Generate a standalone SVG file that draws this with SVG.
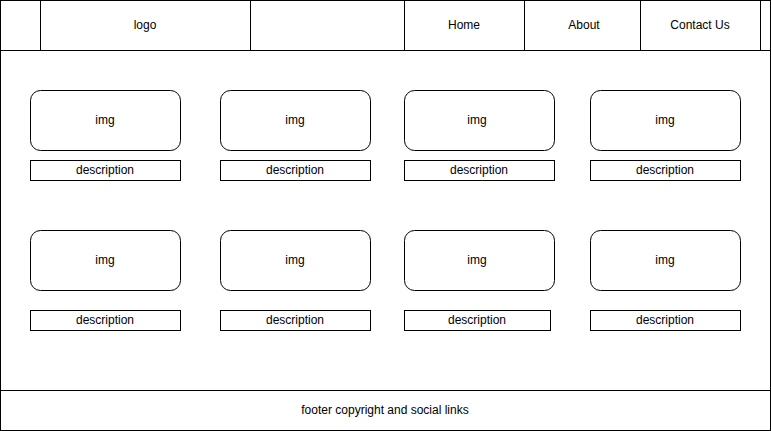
<svg xmlns="http://www.w3.org/2000/svg" width="771" height="431" viewBox="0 0 771 431">
<style>
.b{fill:#fff;stroke:#000;stroke-width:1}
.t{font-family:"Liberation Sans",Arial,sans-serif;font-size:12px;fill:#000;text-anchor:middle}
</style>
<rect x="0" y="0" width="771" height="431" fill="#fff"/>
<g id="page"><rect class="b" x="0.5" y="0.5" width="770" height="430"/></g>
<g id="header">
<rect class="b" x="0.5" y="0.5" width="770" height="50"/>
<rect class="b" x="40.5" y="0.5" width="210" height="50"/>
<rect class="b" x="404.5" y="0.5" width="120" height="50"/>
<rect class="b" x="524.5" y="0.5" width="116" height="50"/>
<rect class="b" x="640.5" y="0.5" width="120" height="50"/>
</g>
<g id="logo"><text class="t" x="145" y="29">logo</text></g>
<g id="nav-home"><text class="t" x="464" y="29">Home</text></g>
<g id="nav-about"><text class="t" x="584" y="29">About</text></g>
<g id="nav-contact"><text class="t" x="700" y="29">Contact Us</text></g>
<g id="card1"><rect class="b" x="30.5" y="90.5" width="150" height="60" rx="10"/><text class="t" x="105" y="124">img</text><rect class="b" x="30.5" y="160.5" width="150" height="20"/><text class="t" x="105" y="174">description</text></g>
<g id="card2"><rect class="b" x="220.5" y="90.5" width="150" height="60" rx="10"/><text class="t" x="295" y="124">img</text><rect class="b" x="220.5" y="160.5" width="150" height="20"/><text class="t" x="295" y="174">description</text></g>
<g id="card3"><rect class="b" x="404.5" y="90.5" width="150" height="60" rx="10"/><text class="t" x="477" y="124">img</text><rect class="b" x="404.5" y="160.5" width="150" height="20"/><text class="t" x="479" y="174">description</text></g>
<g id="card4"><rect class="b" x="590.5" y="90.5" width="150" height="60" rx="10"/><text class="t" x="665" y="124">img</text><rect class="b" x="590.5" y="160.5" width="150" height="20"/><text class="t" x="665" y="174">description</text></g>
<g id="card5"><rect class="b" x="30.5" y="230.5" width="150" height="60" rx="10"/><text class="t" x="105" y="264">img</text><rect class="b" x="30.5" y="310.5" width="150" height="20"/><text class="t" x="105" y="324">description</text></g>
<g id="card6"><rect class="b" x="220.5" y="230.5" width="150" height="60" rx="10"/><text class="t" x="295" y="264">img</text><rect class="b" x="220.5" y="310.5" width="150" height="20"/><text class="t" x="295" y="324">description</text></g>
<g id="card7"><rect class="b" x="404.5" y="230.5" width="150" height="60" rx="10"/><text class="t" x="477" y="264">img</text><rect class="b" x="404.5" y="310.5" width="146" height="20"/><text class="t" x="477" y="324">description</text></g>
<g id="card8"><rect class="b" x="590.5" y="230.5" width="150" height="60" rx="10"/><text class="t" x="665" y="264">img</text><rect class="b" x="590.5" y="310.5" width="150" height="20"/><text class="t" x="665" y="324">description</text></g>
<g id="footer"><rect class="b" x="0.5" y="390.5" width="770" height="40"/><text class="t" x="385" y="414">footer copyright and social links</text></g>
<g id="connectors"></g>
</svg>
